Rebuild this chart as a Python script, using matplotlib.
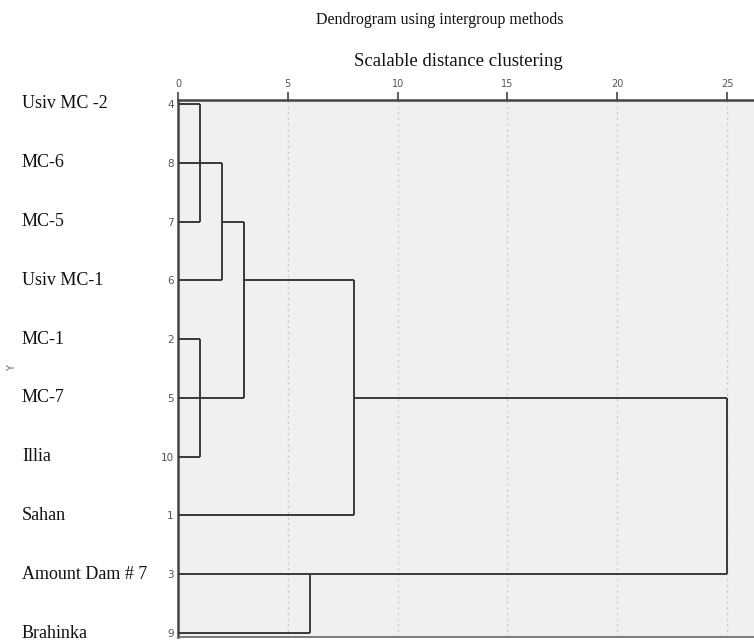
import matplotlib
matplotlib.use("Agg")
import matplotlib.pyplot as plt
import matplotlib.transforms as mtransforms

# 케이스 (표시 순서대로)
case_ids = [4, 8, 7, 6, 2, 5, 10, 1, 3, 9]
case_names = ["Usiv MC -2", "MC-6", "MC-5", "Usiv MC-1", "MC-1",
              "MC-7", "Illia", "Sahan", "Amount Dam # 7", "Brahinka"]

# 군집화 일정표 (cluster1 + cluster2 -> cluster1, 재조정 거리)
stage_c1 = [4, 4, 2, 2, 4, 4, 4, 3, 4]
stage_c2 = [7, 8, 10, 5, 6, 2, 1, 9, 3]
stage_dist = [1, 1, 1, 1, 2, 3, 8, 6, 25]

x_ticks = [0, 5, 10, 15, 20, 25]

SERIF = ["Liberation Serif", "DejaVu Serif"]
LINE_C = "#3a3a3a"

fig = plt.figure(figsize=(7.54, 6.4), dpi=100)
ax = fig.add_axes([178/754, 3/640, 1 - 178/754, (637-100)/640])
ax.set_facecolor("#f0f0f0")

row_pitch = (633 - 104) / 9
ax.set_ylim(9 + 4/row_pitch, -4/row_pitch)
ax.set_xlim(0, (754 - 178) / ((727 - 178) / 25))

# 덴드로그램 선
row = {c: i for i, c in enumerate(case_ids)}
start = {c: 0 for c in case_ids}
for c1, c2, d in zip(stage_c1, stage_c2, stage_dist):
    for c in (c1, c2):
        if d > start[c]:
            ax.plot([start[c], d], [row[c], row[c]], color=LINE_C, lw=1.4,
                    solid_capstyle="butt", zorder=3)
    if row[c1] != row[c2]:
        ax.plot([d, d], [row[c1], row[c2]], color=LINE_C, lw=1.4,
                solid_capstyle="butt", zorder=3)
    row[c1] = (row[c1] + row[c2]) // 2
    start[c1] = d

# 축 설정
ax.xaxis.tick_top()
ax.set_xticks(x_ticks)
ax.set_xticklabels([str(t) for t in x_ticks], fontsize=7, color="#555555")
ax.tick_params(axis="x", direction="out", length=6, width=1.2, color="#444444", pad=2)
for t in x_ticks[1:]:
    ax.axvline(t, color="#c4c4c4", lw=0.9, linestyle=(0, (1.5, 3)), zorder=1)

ax.set_yticks(range(len(case_ids)))
ax.set_yticklabels([str(c) for c in case_ids], fontsize=7.5, color="#555555")
ax.tick_params(axis="y", length=0, pad=3)

for side in ["top", "left"]:
    ax.spines[side].set_color("#444444")
    ax.spines[side].set_linewidth(1.8)
ax.spines["bottom"].set_color("#666666")
ax.spines["bottom"].set_linewidth(1.2)
ax.spines["right"].set_visible(False)

# 케이스 이름
trans = mtransforms.blended_transform_factory(fig.transFigure, ax.transData)
for i, name in enumerate(case_names):
    ax.text(22/754, i, name, transform=trans, family=SERIF, fontsize=13,
            ha="left", va="center", color="#111111", clip_on=False)

fig.text(12/754, 1 - 368/640, "Y", rotation=90, fontsize=7, color="#666666",
         ha="center", va="center")

fig.text(440/754, 1 - 20/640, "Dendrogram using intergroup methods",
         family=SERIF, fontsize=11.5, ha="center", va="center", color="#111111")
fig.text(458/754, 1 - 62/640, "Scalable distance clustering",
         family=SERIF, fontsize=13.5, ha="center", va="center", color="#111111")

fig.savefig("out.png", dpi=100)
